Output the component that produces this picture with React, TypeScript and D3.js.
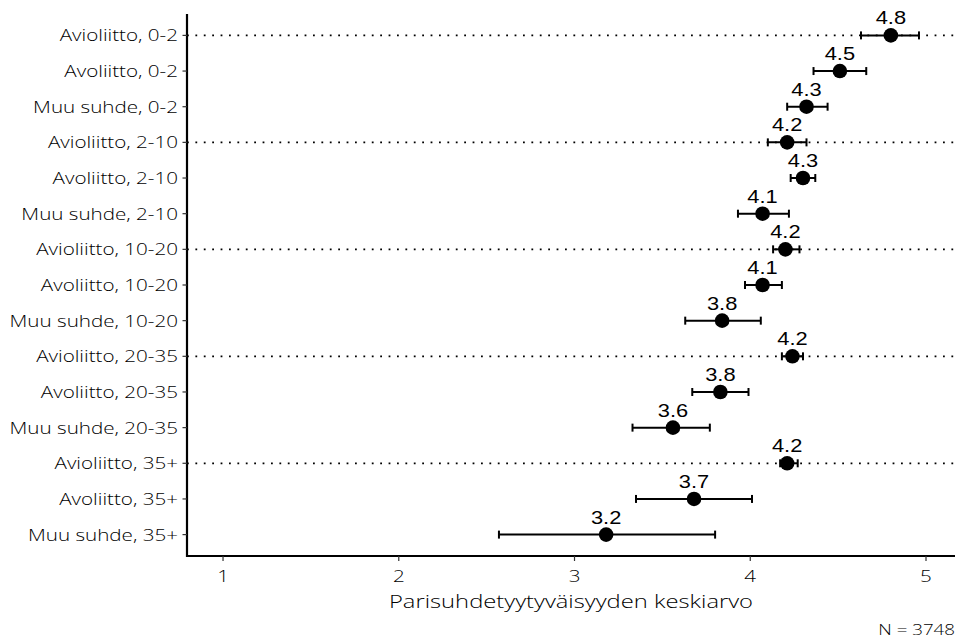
import React from "react";
import * as d3 from "d3";

const categories = [
  "Avioliitto, 0-2", "Avoliitto, 0-2", "Muu suhde, 0-2",
  "Avioliitto, 2-10", "Avoliitto, 2-10", "Muu suhde, 2-10",
  "Avioliitto, 10-20", "Avoliitto, 10-20", "Muu suhde, 10-20",
  "Avioliitto, 20-35", "Avoliitto, 20-35", "Muu suhde, 20-35",
  "Avioliitto, 35+", "Avoliitto, 35+", "Muu suhde, 35+",
];
const means = [4.80, 4.51, 4.32, 4.21, 4.30, 4.07, 4.20, 4.07, 3.84, 4.24, 3.83, 3.56, 4.21, 3.68, 3.18];
const lower = [4.63, 4.36, 4.21, 4.10, 4.23, 3.93, 4.13, 3.97, 3.63, 4.18, 3.67, 3.33, 4.17, 3.35, 2.57];
const upper = [4.96, 4.66, 4.44, 4.32, 4.37, 4.22, 4.28, 4.18, 4.06, 4.30, 3.99, 3.77, 4.27, 4.01, 3.80];
const xTicks = [1, 2, 3, 4, 5];
const xTitle = "Parisuhdetyytyväisyyden keskiarvo";
const caption = "N = 3748";

const W = 961, H = 638;
const panel = { left: 187, right: 955, top: 14, bottom: 556 };
const axisFont = "'Open Sans', 'Noto Sans', sans-serif";
const valueFont = "'Liberation Sans', Arial, sans-serif";
const SX = 1.25;

function T(props: { x: number; y: number; anchor: string; size: number; family: string; weight?: number; fill?: string; children: any }) {
  return (
    <text transform={`translate(${props.x},${props.y}) scale(${SX},1)`} textAnchor={props.anchor}
      fontFamily={props.family} fontWeight={props.weight ?? 400} fontSize={props.size} fill={props.fill ?? "#000"}>
      {props.children}
    </text>
  );
}

export default function App() {
  const x = d3.scaleLinear().domain([0.795, 5.165]).range([panel.left, panel.right]);
  const y = d3.scalePoint<string>().domain(categories).range([panel.top, panel.bottom]).padding(0.6);
  const rows = categories.map((c, i) => ({ c, m: means[i], lo: lower[i], hi: upper[i] }));
  const cap = 4;
  return (
    <svg width={W} height={H} style={{ position: "absolute", left: 0, top: 0, background: "#fff" }}>
      {rows.filter(r => r.c.startsWith("Avioliitto")).map(r => (
        <line key={"g" + r.c} x1={panel.left} x2={panel.right} y1={y(r.c)} y2={y(r.c)}
          stroke="#000" strokeWidth={1.8} strokeDasharray="1.8 6.6" />
      ))}
      <line x1={panel.left} x2={panel.left} y1={panel.top} y2={panel.bottom + 1} stroke="#000" strokeWidth={2.2} />
      <line x1={panel.left - 1} x2={panel.right} y1={panel.bottom} y2={panel.bottom} stroke="#000" strokeWidth={2.2} />
      {rows.map(r => (
        <g key={"yt" + r.c}>
          <line x1={panel.left - 4.5} x2={panel.left} y1={y(r.c)} y2={y(r.c)} stroke="#333" strokeWidth={1.2} />
          <T x={panel.left - 9} y={(y(r.c) as number) + 6} anchor="end" family={axisFont} weight={300} size={16.5} fill="#000">{r.c}</T>
        </g>
      ))}
      {xTicks.map(t => (
        <g key={"xt" + t}>
          <line x1={x(t)} x2={x(t)} y1={panel.bottom} y2={panel.bottom + 5} stroke="#333" strokeWidth={1.2} />
          <T x={x(t)} y={panel.bottom + 26} anchor="middle" family={axisFont} weight={300} size={16.5} fill="#000">{t}</T>
        </g>
      ))}
      <T x={(panel.left + panel.right) / 2} y={608} anchor="middle" family={axisFont} weight={300} size={19}>{xTitle}</T>
      <T x={955} y={635} anchor="end" family={axisFont} weight={300} size={15}>{caption}</T>
      {rows.map(r => {
        const yy = y(r.c) as number;
        return (
          <g key={"p" + r.c}>
            <line x1={x(r.lo)} x2={x(r.hi)} y1={yy} y2={yy} stroke="#000" strokeWidth={2} />
            <line x1={x(r.lo)} x2={x(r.lo)} y1={yy - cap} y2={yy + cap} stroke="#000" strokeWidth={2} />
            <line x1={x(r.hi)} x2={x(r.hi)} y1={yy - cap} y2={yy + cap} stroke="#000" strokeWidth={2} />
            <circle cx={x(r.m)} cy={yy} r={7.3} fill="#000" />
            <T x={x(r.m)} y={yy - 11} anchor="middle" family={valueFont} size={17.5}>{r.m.toFixed(1)}</T>
          </g>
        );
      })}
    </svg>
  );
}
